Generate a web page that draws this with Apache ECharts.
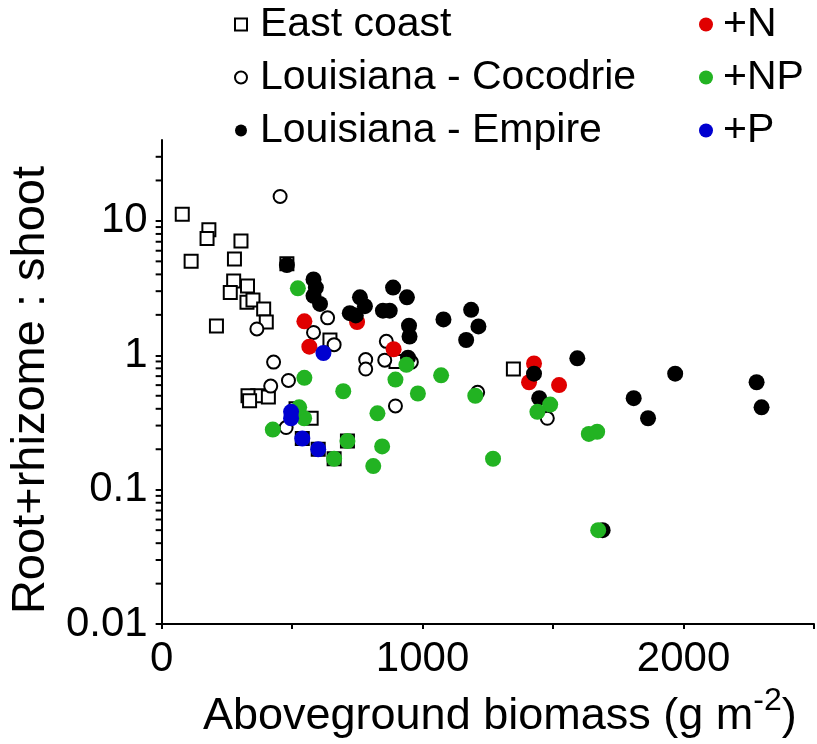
<!DOCTYPE html>
<html><head><meta charset="utf-8">
<script src="https://cdn.jsdelivr.net/npm/echarts@6/dist/echarts.min.js"></script>
<style>html,body{margin:0;padding:0;background:#fff}#c{width:817px;height:744px}</style>
</head><body><div id="c"></div>
<script>
const eastCoast = [[79,11.2],[181,8.6],[174,7.4],[304,7.1],[113,5.0],[279,5.2],[480,4.8],[276,3.57],[329,3.28],[263,2.93],[327,2.48],[350,2.58],[391,2.21],[401,1.77],[210,1.65],[645,1.30],[368,0.50],[331,0.50],[337,0.46],[409,0.49],[515,0.40],[573,0.34],[539,0.24],[600,0.20],[712,0.23],[661,0.17],[1348,0.79],[898,0.90]];
const cocodrie = [[454,15.2],[365,1.57],[636,1.90],[582,1.48],[661,1.20],[429,0.89],[782,0.93],[782,0.79],[855,0.92],[861,1.27],[957,0.89],[418,0.59],[486,0.65],[1211,0.53],[896,0.42],[477,0.29],[1478,0.34]];
const empire = [[480,4.7],[582,3.67],[591,3.19],[582,2.77],[607,2.41],[760,2.70],[779,2.32],[721,2.06],[744,1.98],[887,3.19],[940,2.70],[848,2.15],[874,2.15],[948,1.66],[950,1.38],[944,0.96],[1080,1.85],[1186,2.18],[1214,1.64],[1167,1.30],[1427,0.73],[1593,0.95],[1447,0.48],[1809,0.48],[1864,0.34],[1968,0.73],[2280,0.63],[2299,0.41],[1690,0.05]];
const plusN = [[547,1.79],[566,1.16],[749,1.77],[889,1.11],[1427,0.87],[1408,0.63],[1523,0.60]];
const plusNP = [[522,3.15],[547,0.68],[696,0.54],[982,0.52],[1071,0.71],[1202,0.50],[827,0.37],[896,0.66],[938,0.85],[546,0.34],[527,0.41],[426,0.28],[712,0.23],[661,0.17],[845,0.21],[811,0.15],[1489,0.43],[1440,0.38],[1637,0.26],[1669,0.27],[1673,0.050],[1270,0.17]];
const plusP = [[496,0.38],[496,0.34],[539,0.24],[600,0.20],[620,1.04]];
const yMinorTicks = [0.02,0.03,0.04,0.05,0.06,0.07,0.08,0.09,0.2,0.3,0.4,0.5,0.6,0.7,0.8,0.9,2,3,4,5,6,7,8,9,20,30];
const xLabelValues = [0,1000,2000];

const FONT = 'Liberation Sans, Arial, sans-serif';
const chart = echarts.init(document.getElementById('c'), null, {renderer:'canvas'});
const openStyle = {color:'#fff', borderColor:'#000', borderWidth:2, opacity:1};
chart.setOption({
  animation:false,
  textStyle:{fontFamily:FONT},
  grid:{left:161, right:1, top:140, bottom:111, containLabel:false},
  legend:[{
    data:['East coast','Louisiana - Cocodrie','Louisiana - Empire'],
    orient:'vertical', left:229, top:-7, itemGap:0, itemWidth:12, itemHeight:12,
    selectedMode:false,
    textStyle:{fontSize:41, color:'#000', lineHeight:53, fontFamily:FONT, padding:[0,0,0,8]}
  },{
    data:['+N','+NP','+P'],
    orient:'vertical', left:694, top:-7, itemGap:0, itemWidth:14, itemHeight:14,
    selectedMode:false,
    textStyle:{fontSize:41, color:'#000', lineHeight:53, fontFamily:FONT, padding:[0,0,0,5]}
  }],
  xAxis:{
    type:'value', min:0, max:2500, interval:500,
    axisLine:{lineStyle:{color:'#000', width:2}},
    axisTick:{length:5, lineStyle:{color:'#000', width:2}},
    splitLine:{show:false},
    axisLabel:{fontSize:42, color:'#000', fontFamily:FONT, margin:14,
      formatter: v => xLabelValues.indexOf(v) >= 0 ? String(v) : ''},
    name:'{m|Aboveground biomass (g m}{sup|-2}{m|)}',
    nameLocation:'middle', nameGap:55,
    nameTextStyle:{fontSize:45, color:'#000', fontFamily:FONT, padding:[0,0,0,24],
      rich:{
        m:{fontSize:45, lineHeight:45, verticalAlign:'bottom', fontFamily:FONT, color:'#000'},
        sup:{fontSize:32, lineHeight:54, verticalAlign:'top', fontFamily:FONT, color:'#000'}
      }}
  },
  yAxis:{
    type:'log', logBase:10, min:0.01, max:40,
    axisLine:{lineStyle:{color:'#000', width:2}},
    axisTick:{length:6, lineStyle:{color:'#000', width:2}},
    splitLine:{show:false},
    axisLabel:{fontSize:42, color:'#000', fontFamily:FONT, margin:14, showMaxLabel:false, padding:[0,0,10,0]},
    name:'Root+rhizome : shoot',
    nameLocation:'middle', nameRotate:90, nameGap:99,
    nameTextStyle:{fontSize:47, color:'#000', fontFamily:FONT, padding:[0,16,0,0]}
  },
  series:[
    {type:'custom', silent:true, clip:false, z:1,
      data: yMinorTicks.map(v => [0, v]),
      renderItem:(params, api) => {
        const p = api.coord([api.value(0), api.value(1)]);
        return {type:'line', shape:{x1:p[0]-6, y1:p[1], x2:p[0], y2:p[1]}, style:{stroke:'#000', lineWidth:2}};
      }},
    {name:'East coast', type:'scatter', symbol:'rect', symbolSize:13, itemStyle:openStyle, data:eastCoast, z:2},
    {name:'Louisiana - Cocodrie', type:'scatter', symbol:'circle', symbolSize:13, itemStyle:openStyle, data:cocodrie, z:3},
    {name:'+N', type:'scatter', symbol:'circle', symbolSize:16, itemStyle:{color:'#e00000', opacity:1}, data:plusN, z:4},
    {name:'Louisiana - Empire', type:'scatter', symbol:'circle', symbolSize:16, itemStyle:{color:'#000', opacity:1}, data:empire, z:5},
    {name:'+NP', type:'scatter', symbol:'circle', symbolSize:16, itemStyle:{color:'#22b322', opacity:1}, data:plusNP, z:6},
    {name:'+P', type:'scatter', symbol:'circle', symbolSize:16, itemStyle:{color:'#0000d0', opacity:1}, data:plusP, z:7}
  ]
});
</script></body></html>
